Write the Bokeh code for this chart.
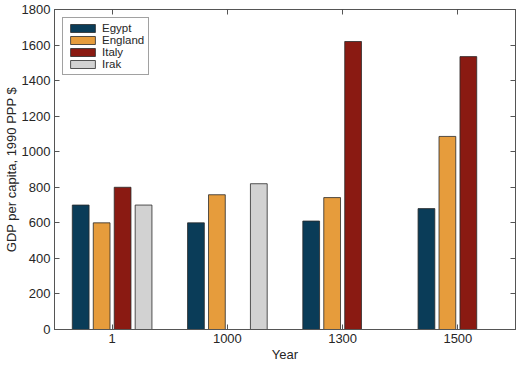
from bokeh.plotting import figure
from bokeh.models import (ColumnDataSource, CategoricalAxis, LinearAxis, FixedTicker,
                          Legend, LegendItem, Range1d)
from bokeh.transform import dodge
from bokeh.embed import file_html
from bokeh.resources import INLINE

# ---- data ----
years = ["1", "1000", "1300", "1500"]
series_names = ["Egypt", "England", "Italy", "Irak"]
egypt = [700, 600, 610, 680]
england = [600, 758, 742, 1086]
italy = [800, None, 1620, 1535]
irak = [700, 820, None, None]
y_ticks = [0, 200, 400, 600, 800, 1000, 1200, 1400, 1600, 1800]

colors = ["#0a3c58", "#e69c3c", "#8a1a12", "#d2d2d2"]
FONT = "Liberation Sans"
AX = "#555555"
TXT = "#262626"

p = figure(x_range=years, y_range=Range1d(0, 1800), width=516, height=364,
           output_backend="svg", toolbar_location=None,
           min_border_left=44, min_border_right=1, min_border_top=9, min_border_bottom=28)

p.xgrid.visible = False
p.ygrid.visible = False
p.outline_line_color = AX
p.outline_line_width = 1
p.background_fill_color = "white"
p.border_fill_color = "white"

n = len(series_names)
group_w = n / (n + 1.5)
step = group_w / n
bar_w = step * 0.8

renderers = []
for i, (name, vals) in enumerate(zip(series_names, [egypt, england, italy, irak])):
    xs = [y for y, v in zip(years, vals) if v is not None]
    tops = [v for v in vals if v is not None]
    src = ColumnDataSource(dict(x=xs, top=tops))
    off = (i - (n - 1) / 2) * step
    r = p.vbar(x=dodge("x", off, range=p.x_range), top="top", width=bar_w, source=src,
               fill_color=colors[i], line_color="#2a2a2a", line_width=0.8)
    renderers.append(r)

def style_axis(ax, labels=True):
    ax.axis_line_color = AX
    ax.major_tick_line_color = AX
    ax.major_tick_in = 5
    ax.major_tick_out = 0
    ax.minor_tick_line_color = None
    if labels:
        ax.major_label_text_font = FONT
        ax.major_label_text_font_size = "13px"
        ax.major_label_text_color = TXT
        ax.axis_label_text_font = FONT
        ax.axis_label_text_font_size = "13px"
        ax.axis_label_text_font_style = "normal"
        ax.axis_label_text_color = TXT

xa = p.xaxis[0]
style_axis(xa)
xa.axis_label = "Year"
xa.major_label_standoff = 4
xa.axis_label_standoff = 1

ya = p.yaxis[0]
ya.ticker = FixedTicker(ticks=y_ticks)
style_axis(ya)
ya.axis_label = "GDP per capita, 1990 PPP $"
ya.major_label_standoff = 4
ya.axis_label_standoff = 0

top_ax = CategoricalAxis(major_label_overrides={y: "" for y in years},
                         major_label_text_font_size="1px", major_label_standoff=0)
style_axis(top_ax, labels=False)
p.add_layout(top_ax, "above")

right_ax = LinearAxis(ticker=FixedTicker(ticks=y_ticks),
                      major_label_overrides={t: "" for t in y_ticks},
                      major_label_text_font_size="1px", major_label_standoff=0)
style_axis(right_ax, labels=False)
p.add_layout(right_ax, "right")

legend = Legend(items=[LegendItem(label=nm, renderers=[r]) for nm, r in zip(series_names, renderers)],
                location="top_left", margin=8, padding=4, spacing=0,
                glyph_width=31, glyph_height=10, label_height=11, label_standoff=4,
                label_text_font=FONT, label_text_font_size="11.5px", label_text_color=TXT,
                border_line_color="#444444", border_line_width=1,
                background_fill_color="white", background_fill_alpha=1)
p.add_layout(legend)

open("out.html", "w").write(file_html(p, INLINE))
